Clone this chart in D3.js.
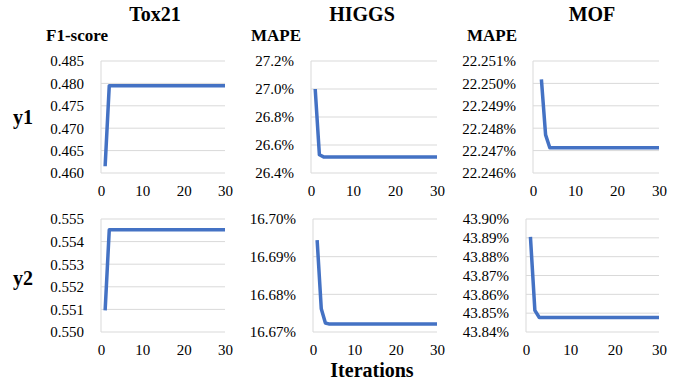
<!DOCTYPE html>
<html>
<head>
<meta charset="utf-8">
<script src="https://cdn.jsdelivr.net/npm/d3@7"></script>
<style>
  body { margin: 0; background: #fff; }
  svg text { font-family: "Liberation Serif", "Times New Roman", Times, serif !important; fill: #000; }
</style>
</head>
<body>
<script>
const iterations = [1,2,3,4,5,6,7,8,9,10,11,12,13,14,15,16,17,18,19,20,21,22,23,24,25,26,27,28,29,30];
const mofY1Iterations = [2,3,4,5,6,7,8,9,10,11,12,13,14,15,16,17,18,19,20,21,22,23,24,25,26,27,28,29,30];
const xTicks = [0, 10, 20, 30];

const tox21Y1 = [0.4615, 0.4795, 0.4795, 0.4795, 0.4795, 0.4795, 0.4795, 0.4795, 0.4795, 0.4795,
                 0.4795, 0.4795, 0.4795, 0.4795, 0.4795, 0.4795, 0.4795, 0.4795, 0.4795, 0.4795,
                 0.4795, 0.4795, 0.4795, 0.4795, 0.4795, 0.4795, 0.4795, 0.4795, 0.4795, 0.4795];
const higgsY1 = [27.00, 26.53, 26.515, 26.515, 26.515, 26.515, 26.515, 26.515, 26.515, 26.515,
                 26.515, 26.515, 26.515, 26.515, 26.515, 26.515, 26.515, 26.515, 26.515, 26.515,
                 26.515, 26.515, 26.515, 26.515, 26.515, 26.515, 26.515, 26.515, 26.515, 26.515];
const mofY1 = [22.25018, 22.2477, 22.24713, 22.24713, 22.24713, 22.24713, 22.24713, 22.24713, 22.24713, 22.24713,
               22.24713, 22.24713, 22.24713, 22.24713, 22.24713, 22.24713, 22.24713, 22.24713, 22.24713, 22.24713,
               22.24713, 22.24713, 22.24713, 22.24713, 22.24713, 22.24713, 22.24713, 22.24713, 22.24713];
const tox21Y2 = [0.55096, 0.55452, 0.55452, 0.55452, 0.55452, 0.55452, 0.55452, 0.55452, 0.55452, 0.55452,
                 0.55452, 0.55452, 0.55452, 0.55452, 0.55452, 0.55452, 0.55452, 0.55452, 0.55452, 0.55452,
                 0.55452, 0.55452, 0.55452, 0.55452, 0.55452, 0.55452, 0.55452, 0.55452, 0.55452, 0.55452];
const higgsY2 = [16.6944, 16.6762, 16.6724, 16.6721, 16.6721, 16.6721, 16.6721, 16.6721, 16.6721, 16.6721,
                 16.6721, 16.6721, 16.6721, 16.6721, 16.6721, 16.6721, 16.6721, 16.6721, 16.6721, 16.6721,
                 16.6721, 16.6721, 16.6721, 16.6721, 16.6721, 16.6721, 16.6721, 16.6721, 16.6721, 16.6721];
const mofY2 = [43.8905, 43.8515, 43.8477, 43.8477, 43.8477, 43.8477, 43.8477, 43.8477, 43.8477, 43.8477,
               43.8477, 43.8477, 43.8477, 43.8477, 43.8477, 43.8477, 43.8477, 43.8477, 43.8477, 43.8477,
               43.8477, 43.8477, 43.8477, 43.8477, 43.8477, 43.8477, 43.8477, 43.8477, 43.8477, 43.8477];

const tox21Y1Ticks = [0.460, 0.465, 0.470, 0.475, 0.480, 0.485];
const higgsY1Ticks = [26.4, 26.6, 26.8, 27.0, 27.2];
const mofY1Ticks = [22.246, 22.247, 22.248, 22.249, 22.250, 22.251];
const tox21Y2Ticks = [0.550, 0.551, 0.552, 0.553, 0.554, 0.555];
const higgsY2Ticks = [16.67, 16.68, 16.69, 16.70];
const mofY2Ticks = [43.84, 43.85, 43.86, 43.87, 43.88, 43.89, 43.90];

const datasets = ["Tox21", "HIGGS", "MOF"];
const rowLabels = ["y1", "y2"];
const metricLabels = ["F1-score", "MAPE", "MAPE"];

const width = 693, height = 381;
const svg = d3.select("body").append("svg")
    .attr("width", width)
    .attr("height", height);

const pct = p => v => d3.format("." + p + "f")(v) + "%";

const panels = [
    { xs: iterations, ys: tox21Y1, ticks: tox21Y1Ticks, fmt: d3.format(".3f"), x0: 101, x1: 225, y0: 61, y1: 173 },
    { xs: iterations, ys: higgsY1, ticks: higgsY1Ticks, fmt: pct(1), x0: 311, x1: 437, y0: 61, y1: 173 },
    { xs: mofY1Iterations, ys: mofY1, ticks: mofY1Ticks, fmt: pct(3), x0: 533, x1: 659, y0: 61, y1: 173 },
    { xs: iterations, ys: tox21Y2, ticks: tox21Y2Ticks, fmt: d3.format(".3f"), x0: 101, x1: 225, y0: 219, y1: 332 },
    { xs: iterations, ys: higgsY2, ticks: higgsY2Ticks, fmt: pct(2), x0: 313, x1: 437, y0: 219, y1: 332 },
    { xs: iterations, ys: mofY2, ticks: mofY2Ticks, fmt: pct(2), x0: 526, x1: 659, y0: 219, y1: 332 }
];

panels.forEach(p => {
    const g = svg.append("g");
    const x = d3.scaleLinear().domain([0, 30]).range([p.x0, p.x1]);
    const y = d3.scaleLinear().domain(d3.extent(p.ticks)).range([p.y1, p.y0]);

    // gridlines
    g.selectAll(".grid")
        .data(p.ticks)
        .join("line")
        .attr("x1", p.x0).attr("x2", p.x1)
        .attr("y1", d => y(d)).attr("y2", d => y(d))
        .attr("stroke", "#d9d9d9")
        .attr("stroke-width", 1);

    g.append("line")
        .attr("x1", p.x0).attr("x2", p.x0)
        .attr("y1", p.y0).attr("y2", p.y1)
        .attr("stroke", "#d9d9d9");

    // y axis labels
    const yAxis = d3.axisLeft(y).tickValues(p.ticks).tickFormat(p.fmt).tickSize(0).tickPadding(17);
    const ya = g.append("g").attr("transform", `translate(${p.x0},0)`).call(yAxis);
    ya.select(".domain").remove();
    ya.attr("font-family", null);
    ya.selectAll("text")
        .style("font-size", "15px")
        .attr("fill", "#000");

    // x axis labels
    const xAxis = d3.axisBottom(x).tickValues(xTicks).tickSize(0).tickPadding(12);
    const xa = g.append("g").attr("transform", `translate(0,${p.y1})`).call(xAxis);
    xa.select(".domain").remove();
    xa.attr("font-family", null);
    xa.selectAll("text")
        .style("font-size", "15px")
        .attr("fill", "#000");

    const line = d3.line()
        .x((d, i) => x(p.xs[i]))
        .y(d => y(d));

    g.append("path")
        .datum(p.ys)
        .attr("d", line)
        .attr("fill", "none")
        .attr("stroke", "#4472C4")
        .attr("stroke-width", 3.5)
        .attr("stroke-linejoin", "round");
});

// column titles
const titleX = [155, 362, 592];
svg.selectAll(".title")
    .data(datasets)
    .join("text")
    .attr("x", (d, i) => titleX[i])
    .attr("y", 21)
    .attr("text-anchor", "middle")
    .style("font-size", "20px")
    .style("font-weight", "bold")
    .text(d => d);

// metric labels
const metricX = [46, 251, 467];
svg.selectAll(".metric")
    .data(metricLabels)
    .join("text")
    .attr("x", (d, i) => metricX[i])
    .attr("y", 41)
    .style("font-size", "17px")
    .style("font-weight", "bold")
    .text(d => d);

// row labels
const rowY = [124, 285];
svg.selectAll(".row")
    .data(rowLabels)
    .join("text")
    .attr("x", 13)
    .attr("y", (d, i) => rowY[i])
    .style("font-size", "20px")
    .style("font-weight", "bold")
    .text(d => d);

svg.append("text")
    .attr("x", 372)
    .attr("y", 376.5)
    .attr("text-anchor", "middle")
    .style("font-size", "20px")
    .style("font-weight", "bold")
    .text("Iterations");
</script>
</body>
</html>
